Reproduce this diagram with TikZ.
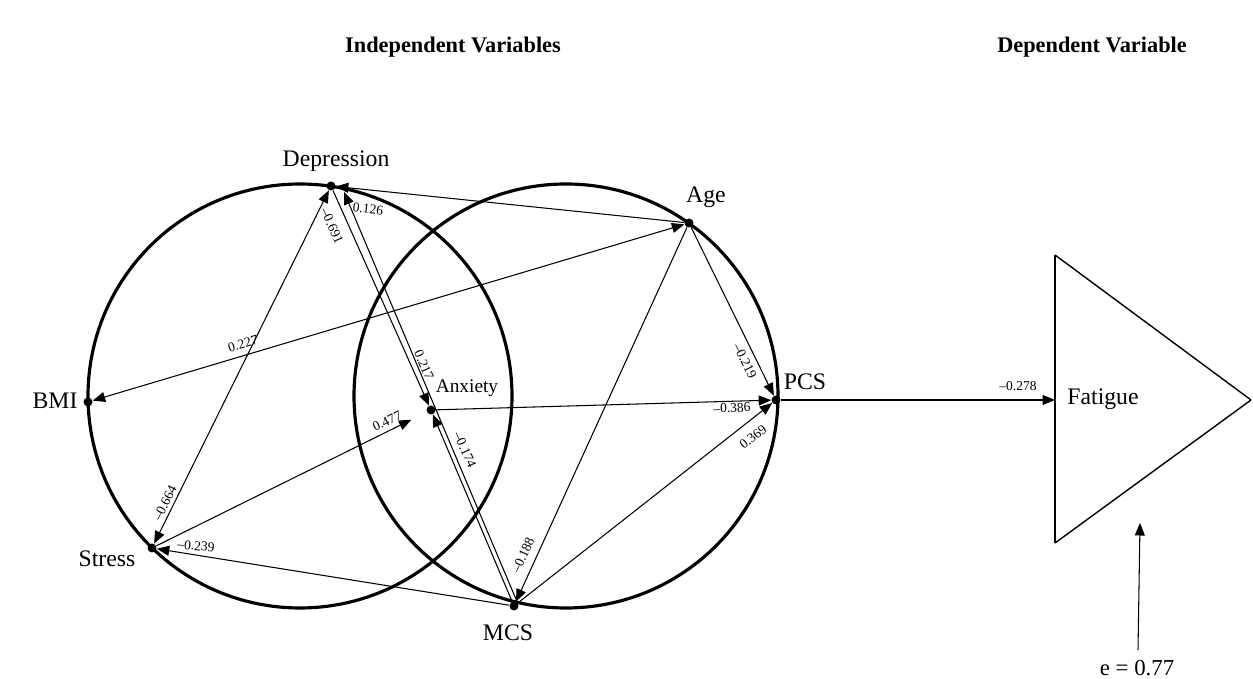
\documentclass[tikz,border=0pt]{standalone}
\usepackage{fontspec}
\setmainfont{Liberation Serif}
\usetikzlibrary{arrows.meta,backgrounds,positioning}
\pgfdeclarelayer{edgelayer}
\pgfdeclarelayer{nodelayer}
\pgfsetlayers{nodelayer,main,edgelayer}
\tikzset{
	vdot/.style={circle, fill=black, inner sep=0pt, minimum size=0.18cm},
	ring/.style={circle, draw, line width=1.8pt, inner sep=0pt, minimum size=8.48cm},
	varname/.style={font=\fontsize{13.5}{16}\selectfont},
	coef/.style={font=\fontsize{7.7}{9}\selectfont, inner sep=0.5pt},
	heading/.style={font=\fontsize{12.7}{15}\selectfont\bfseries},
	link/.style={line width=0.6pt},
}

\begin{document}
\begin{tikzpicture}[>={Triangle[length=0.25cm,width=0.2cm]}]
	\useasboundingbox (0,0) rectangle (25.06,13.58);
	\begin{pgfonlayer}{nodelayer}
		\node [style=ring] (7) at (6.00, 5.66) {};
		\node [style=ring] (8) at (11.32, 5.66) {};
		\node [style=vdot] (0) at (6.62, 9.86) {};
		\node [style=vdot] (1) at (13.78, 9.12) {};
		\node [style=vdot] (2) at (1.76, 5.54) {};
		\node [style=vdot] (3) at (8.62, 5.38) {};
		\node [style=vdot] (4) at (15.52, 5.58) {};
		\node [style=vdot] (5) at (3.04, 2.62) {};
		\node [style=vdot] (6) at (10.28, 1.46) {};
		\node [style=varname] (9) at (6.72, 10.36) {Depression};
		\node [style=varname] (10) at (14.12, 9.64) {Age};
		\node [style=varname] (11) at (1.10, 5.56) {BMI};
		\node [font=\fontsize{11}{13}\selectfont] (12) at (9.34, 5.82) {Anxiety};
		\node [style=varname] (13) at (16.10, 5.94) {PCS};
		\node [style=varname] (14) at (2.14, 2.40) {Stress};
		\node [style=varname] (15) at (10.16, 0.92) {MCS};
		\node [style=varname] (16) at (22.06, 5.60) {Fatigue};
		\node [font=\fontsize{13}{15}\selectfont] (17) at (22.74, 0.22) {e = 0.77};
		\node [style=heading] (18) at (9.06, 12.64) {Independent Variables};
		\node [style=heading] (19) at (21.84, 12.64) {Dependent Variable};
		\node [] (20) at (21.10, 8.48) {};
		\node [] (21) at (21.10, 2.72) {};
		\node [] (22) at (25.02, 5.58) {};
		\node [] (23) at (21.10, 5.58) {};
		\node [] (24) at (22.76, 0.58) {};
		\node [] (25) at (22.80, 3.12) {};
		\node [] (26) at (6.88, 9.74) {};
		\node [style=coef, rotate=-7] (27) at (7.36, 9.40) {0.126};
		\node [style=coef, rotate=-66] (28) at (6.64, 9.06) {–0.691};
		\node [style=coef, rotate=16.6] (29) at (4.86, 6.70) {0.227};
		\node [style=coef, rotate=-66] (30) at (8.48, 6.28) {0.217};
		\node [style=coef, rotate=-66] (31) at (9.30, 4.58) {–0.174};
		\node [style=coef, rotate=26] (32) at (7.74, 5.16) {0.477};
		\node [style=coef, rotate=63.7] (33) at (3.30, 3.52) {–0.664};
		\node [style=coef, rotate=-5] (34) at (3.92, 2.66) {–0.239};
		\node [style=coef, rotate=65.4] (35) at (10.46, 2.48) {–0.188};
		\node [style=coef, rotate=-63.8] (36) at (14.90, 6.36) {–0.219};
		\node [style=coef, rotate=2] (37) at (14.64, 5.42) {–0.386};
		\node [style=coef, rotate=38.2] (38) at (15.06, 4.84) {0.369};
		\node [style=coef] (39) at (20.36, 5.86) {–0.278};
	\end{pgfonlayer}
	\begin{pgfonlayer}{edgelayer}
		\draw [style=link, ->] (1) to (0);
		\draw [style=link, <->] (2) to (1);
		\draw [style=link, <->] (5) to (0);
		\draw [style=link, ->] (0) to (3);
		\draw [style=link, ->] (6) to (3);
		\draw [style=link, ->] (6.north east) to (26.center);
		\draw [style=link, ->, shorten >=0.34cm] (5) to (3);
		\draw [style=link, ->] (1) to (4);
		\draw [style=link, ->] (1) to (6);
		\draw [style=link, ->] (3) to (4);
		\draw [style=link, ->] (6) to (4);
		\draw [style=link, ->] (6) to (5);
		\draw [style=link, ->] (4) to (23.center);
		\draw [style=link, ->] (24.center) to (25.center);
		\draw [line width=0.8pt, line join=miter] (20.center) to (21.center);
		\draw [line width=0.8pt] (21.center) to (22.center);
		\draw [line width=0.8pt] (22.center) to (20.center);
	\end{pgfonlayer}
\end{tikzpicture}
\end{document}
